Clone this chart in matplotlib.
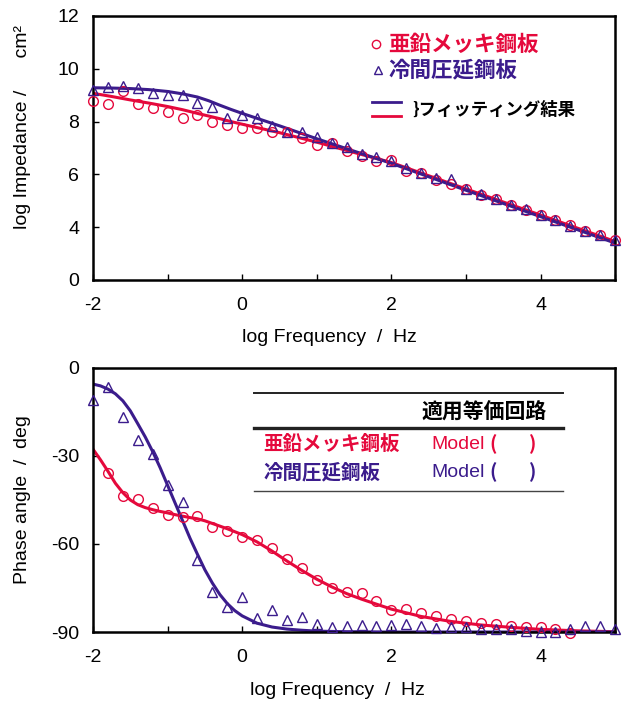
import matplotlib
matplotlib.use("Agg")
import matplotlib.pyplot as plt

# ---------------------------------------------------------
# Datos
# ---------------------------------------------------------
frecuencia = [-2.0, -1.8, -1.6, -1.4, -1.2, -1.0, -0.8, -0.6, -0.4, -0.2,
              0.0, 0.2, 0.4, 0.6, 0.8, 1.0, 1.2, 1.4, 1.6, 1.8,
              2.0, 2.2, 2.4, 2.6, 2.8, 3.0, 3.2, 3.4, 3.6, 3.8,
              4.0, 4.2, 4.4, 4.6, 4.8, 5.0]

# log |Z| medido
z_zinc = [8.78, 8.68, 9.14, 8.66, 8.51, 8.37, 8.15, 8.24, 8.00, 7.88,
          7.76, 7.75, 7.60, 7.60, 7.38, 7.12, 7.17, 6.87, 6.70, 6.51,
          6.56, 6.14, 6.06, 5.79, 5.63, 5.44, 5.22, 5.05, 4.84, 4.66,
          4.46, 4.27, 4.09, 3.87, 3.69, 3.51]
z_frio = [9.19, 9.31, 9.34, 9.26, 9.09, 8.99, 8.99, 8.71, 8.56, 8.15,
          8.25, 8.12, 7.85, 7.62, 7.59, 7.42, 7.20, 7.02, 6.79, 6.64,
          6.49, 6.26, 6.07, 5.88, 5.83, 5.43, 5.25, 5.06, 4.85, 4.67,
          4.47, 4.28, 4.06, 3.87, 3.69, 3.51]

# log |Z| ajuste
x_ajuste_z = [-2.0, -1.75, -1.5, -1.25, -1.0, -0.8, -0.6, -0.45, -0.3, -0.15,
              0.0, 0.5, 1.0, 1.5, 2.0, 3.0, 4.0, 5.0]
z_ajuste_zinc = [9.07, 8.95, 8.82, 8.70, 8.57, 8.45, 8.31, 8.21, 8.11, 8.00,
                 7.90, 7.58, 7.22, 6.83, 6.45, 5.45, 4.46, 3.46]
z_ajuste_frio = [9.28, 9.27, 9.25, 9.21, 9.14, 9.05, 8.93, 8.79, 8.62, 8.46,
                 8.31, 7.84, 7.35, 6.88, 6.42, 5.40, 4.40, 3.40]

# fase medida
frecuencia_fase_zinc = frecuencia[1:33]
fase_zinc = [-35.7, -43.5, -44.7, -47.8, -50.1, -50.9, -50.4, -54.1, -55.6,
             -57.5, -58.6, -61.3, -65.1, -68.2, -72.4, -75.1, -76.5, -76.7, -79.5,
             -82.5, -82.1, -83.5, -84.4, -85.6, -86.1, -86.8, -87.3, -87.9, -88.2,
             -88.4, -88.9, -90.2]
fase_frio = [-10.8, -6.5, -16.6, -24.6, -29.4, -40.0, -45.8, -65.5, -76.4, -81.6,
             -77.9, -85.2, -82.5, -85.9, -85.0, -87.1, -88.4, -87.9, -87.6, -87.9,
             -87.5, -87.1, -87.9, -88.8, -88.4, -88.4, -89.0, -89.0, -89.0, -89.6,
             -89.9, -89.9, -89.0, -87.9, -87.9, -89.0]

# fase ajuste
x_ajuste_fase = [-2.0, -1.9, -1.8, -1.7, -1.6, -1.5, -1.4, -1.3, -1.2, -1.1,
                 -1.0, -0.9, -0.8, -0.7, -0.6, -0.5, -0.4, -0.3, -0.2, -0.1,
                 0.0, 0.2, 0.4, 0.6, 0.8, 1.0, 1.2, 1.4, 1.6, 1.8,
                 2.0, 2.4, 2.8, 3.2, 3.6, 4.0, 4.5, 5.0]
fase_ajuste_zinc = [-27.7, -31.3, -35.2, -39.3, -42.5, -45.0, -46.6, -47.6, -48.3, -48.9,
                    -49.4, -50.0, -50.5, -51.0, -51.4, -52.1, -53.0, -53.9, -54.8, -55.8,
                    -56.8, -59.3, -62.4, -65.8, -69.0, -72.0, -74.6, -76.9, -78.8, -80.5,
                    -82.2, -84.7, -86.4, -87.6, -88.4, -89.1, -89.6, -89.9]
fase_ajuste_frio = [-5.5, -6.1, -7.2, -8.8, -11.2, -14.6, -19.0, -23.5, -28.5, -34.0,
                    -40.0, -46.0, -52.0, -58.0, -63.5, -68.8, -73.3, -77.2, -80.3, -82.7,
                    -84.5, -87.0, -88.3, -89.0, -89.4, -89.7, -89.8, -89.9, -89.9, -90.0,
                    -90.0, -90.0, -90.0, -90.0, -90.0, -90.0, -90.0, -90.0]

ticks_x = [-2, -1, 0, 1, 2, 3, 4, 5]
etiquetas_x = ["-2", "", "0", "", "2", "", "4", ""]
ticks_z = [2, 4, 6, 8, 10, 12]
etiquetas_z = ["0", "4", "6", "8", "10", "12"]
ticks_fase = [-90, -60, -30, 0]
etiquetas_fase = ["-90", "-60", "-30", "0"]

nombre_zinc = "亜鉛メッキ鋼板"
nombre_frio = "冷間圧延鋼板"

# ---------------------------------------------------------
# Estilo
# ---------------------------------------------------------
rojo = "#e5093c"
morado = "#3b1c8c"
fuente_latina = ["Liberation Sans", "DejaVu Sans"]
fuente_jp = ["Noto Sans CJK JP", "DejaVu Sans"]

plt.rcParams["font.family"] = fuente_latina
plt.rcParams["axes.unicode_minus"] = False

fig = plt.figure(figsize=(6.23, 7.06), dpi=100)
ax1 = fig.add_axes([0.1493, 0.6034, 0.8380, 0.3740])
ax2 = fig.add_axes([0.1493, 0.1048, 0.8380, 0.3740])


def estilo_ejes(ax):
    for s in ax.spines.values():
        s.set_linewidth(1.8)
        s.set_color("black")
    ax.tick_params(direction="in", length=4.5, width=1.0, labelsize=14)
    ax.tick_params(axis="x", pad=12)
    ax.tick_params(axis="y", pad=10)
    ax.set_xlim(-2, 5)
    ax.set_xticks(ticks_x)
    ax.set_xticklabels(etiquetas_x)


# ---------------------------------------------------------
# 1) log |Z|
# ---------------------------------------------------------
estilo_ejes(ax1)
ax1.plot(x_ajuste_z, z_ajuste_zinc, color=rojo, lw=2.2, zorder=2)
ax1.plot(x_ajuste_z, z_ajuste_frio, color=morado, lw=2.2, zorder=2)
ax1.plot(frecuencia, z_zinc, "o", ms=7, mfc="none", mec=rojo, mew=1.0, clip_on=False, zorder=3)
ax1.plot(frecuencia, z_frio, "^", ms=7, mfc="none", mec=morado, mew=1.0, clip_on=False, zorder=3)
ax1.set_ylim(2, 12)
ax1.set_yticks(ticks_z)
ax1.set_yticklabels(etiquetas_z)
ax1.set_ylabel("log Impedance /      cm²", fontsize=14)
ax1.yaxis.set_label_coords(-0.119, 0.58)
ax1.set_xlabel("log Frequency  /  Hz", fontsize=14)
ax1.xaxis.set_label_coords(0.452, -0.185)

# leyenda
ax1.plot([0.542], [0.894], "o", ms=6, mfc="none", mec=rojo, mew=1.0, transform=ax1.transAxes)
ax1.plot([0.545], [0.795], "^", ms=6, mfc="none", mec=morado, mew=1.0, transform=ax1.transAxes)
ax1.text(0.565, 0.894, nombre_zinc, color=rojo, fontsize=15.5, fontweight="bold",
         family=fuente_jp, va="center", transform=ax1.transAxes)
ax1.text(0.565, 0.795, nombre_frio, color=morado, fontsize=15.5, fontweight="bold",
         family=fuente_jp, va="center", transform=ax1.transAxes)
ax1.plot([0.534, 0.590], [0.675, 0.675], color=morado, lw=2.0, transform=ax1.transAxes)
ax1.plot([0.534, 0.590], [0.621, 0.621], color=rojo, lw=2.0, transform=ax1.transAxes)
ax1.text(0.612, 0.646, "}フィッティング結果", color="black", fontsize=12.5, fontweight="bold",
         family=fuente_jp, va="center", transform=ax1.transAxes)

# ---------------------------------------------------------
# 2) Fase
# ---------------------------------------------------------
estilo_ejes(ax2)
ax2.plot(x_ajuste_fase, fase_ajuste_zinc, color=rojo, lw=2.2, zorder=2)
ax2.plot(x_ajuste_fase, fase_ajuste_frio, color=morado, lw=2.2, zorder=2)
ax2.plot(frecuencia_fase_zinc, fase_zinc, "o", ms=7, mfc="none", mec=rojo, mew=1.0,
         clip_on=False, zorder=3)
ax2.plot(frecuencia, fase_frio, "^", ms=7, mfc="none", mec=morado, mew=1.0,
         clip_on=False, zorder=3)
ax2.set_ylim(-90, 0)
ax2.set_yticks(ticks_fase)
ax2.set_yticklabels(etiquetas_fase)
ax2.set_ylabel("Phase angle  /  deg", fontsize=14)
ax2.yaxis.set_label_coords(-0.119, 0.5)
ax2.set_xlabel("log Frequency  /  Hz", fontsize=14)
ax2.xaxis.set_label_coords(0.469, -0.19)

# tabla de circuitos equivalentes
ax2.plot([0.308, 0.900], [0.906, 0.906], color="#222222", lw=1.4, transform=ax2.transAxes)
ax2.plot([0.308, 0.900], [0.771, 0.771], color="#222222", lw=2.4, transform=ax2.transAxes)
ax2.plot([0.308, 0.900], [0.534, 0.534], color="#444444", lw=1.0, transform=ax2.transAxes)
ax2.text(0.630, 0.832, "適用等価回路", color="black", fontsize=15, fontweight="bold",
         family=fuente_jp, va="center", transform=ax2.transAxes)
for nombre, color, y in [(nombre_zinc, rojo, 0.712), (nombre_frio, morado, 0.605)]:
    ax2.text(0.326, y, nombre, color=color, fontsize=14, fontweight="bold",
             family=fuente_jp, va="center", transform=ax2.transAxes)
    ax2.text(0.649, y, "Model", color=color, fontsize=14, va="center", transform=ax2.transAxes)
    ax2.text(0.759, y, "(", color=color, fontsize=14, fontweight="bold",
             family=fuente_jp, va="center", transform=ax2.transAxes)
    ax2.text(0.835, y, ")", color=color, fontsize=14, fontweight="bold",
             family=fuente_jp, va="center", transform=ax2.transAxes)

fig.savefig("out.png", dpi=100)
